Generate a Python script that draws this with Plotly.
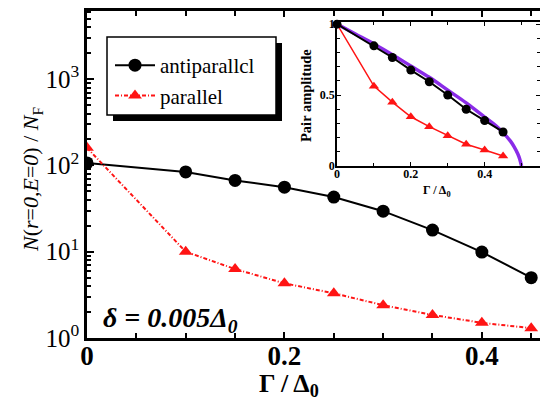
import plotly.graph_objects as go

# ---- data ----
gamma = [0.0, 0.1, 0.15, 0.2, 0.25, 0.3, 0.35, 0.4, 0.45]
dos_antiparallel = [107, 84, 67, 56, 43, 29.5, 17.8, 9.9, 5.0]
dos_parallel = [160, 10.0, 6.3, 4.3, 3.3, 2.4, 1.85, 1.5, 1.3]

pair_antiparallel = [1.0, 0.847, 0.765, 0.676, 0.594, 0.50, 0.40, 0.32, 0.24]
pair_parallel = [1.0, 0.563, 0.45, 0.347, 0.277, 0.213, 0.153, 0.113, 0.07]

curve_x = [0.0, 0.05, 0.1, 0.15, 0.2, 0.25, 0.3, 0.35, 0.4, 0.43, 0.45, 0.47, 0.48, 0.49, 0.495, 0.5]
curve_y = [1.0, 0.93, 0.86, 0.785, 0.705, 0.625, 0.535, 0.445, 0.345, 0.285, 0.235, 0.175, 0.135, 0.085, 0.05, 0.0]

y_tickvals = [1, 10, 100, 1000]
y_ticktext = ["10<sup>0</sup>", "10<sup>1</sup>", "10<sup>2</sup>", "10<sup>3</sup>"]
y_minor = [m * d for d in [1, 10, 100, 1000] for m in range(2, 10)]

x_tickvals = [0, 0.2, 0.4]
x_ticktext = ["0", "0.2", "0.4"]
inset_x_tickvals = [0, 0.2, 0.4]
inset_x_ticktext = ["0", "0.2", "0.4"]
inset_y_tickvals = [0, 0.5, 1]
inset_y_ticktext = ["0", "0.5", "1"]

FONT = "Liberation Serif"
RED = "#ff1414"
PURPLE = "#8a2be8"

# the page body has an 8px margin, so figure coords = screen coords - 8
OFF = 8
W, H = 548, 401
L, R, T, B = 79, 9, 3, 71
PW, PH = W - L - R, H - T - B


def px(x):
    return (x - OFF - L) / PW


def py(y):
    return (H - B - (y - OFF)) / PH


fig = go.Figure()

fig.add_trace(go.Scatter(
    x=gamma, y=dos_antiparallel, name="antiparallcl", mode="lines+markers",
    line=dict(color="black", width=2),
    marker=dict(symbol="circle", size=13, color="black"),
))
fig.add_trace(go.Scatter(
    x=gamma, y=dos_parallel, name="parallel", mode="lines+markers",
    line=dict(color=RED, width=2, dash="4px,2px,1px,2px"),
    marker=dict(symbol="triangle-up", size=12, color=RED),
))

# inset
fig.add_trace(go.Scatter(
    x=curve_x, y=curve_y, mode="lines", line=dict(color=PURPLE, width=3.5, shape="spline"),
    xaxis="x2", yaxis="y2", showlegend=False, cliponaxis=False,
))
fig.add_trace(go.Scatter(
    x=gamma, y=pair_parallel, mode="lines+markers", line=dict(color=RED, width=1.5),
    marker=dict(symbol="triangle-up", size=9, color=RED),
    xaxis="x2", yaxis="y2", showlegend=False, cliponaxis=False,
))
fig.add_trace(go.Scatter(
    x=gamma, y=pair_antiparallel, mode="lines+markers", line=dict(color="black", width=2),
    marker=dict(symbol="circle", size=9, color="black"),
    xaxis="x2", yaxis="y2", showlegend=False, cliponaxis=False,
))

axis_common = dict(showgrid=False, zeroline=False, showline=True, linecolor="black",
                   ticks="inside", tickcolor="black", automargin=False)

fig.update_layout(
    width=W, height=H,
    margin=dict(l=L, r=R, t=T, b=B, autoexpand=False),
    paper_bgcolor="white", plot_bgcolor="white",
    font=dict(family=FONT, color="black"),
    xaxis=dict(
        **axis_common, range=[0, 0.466], linewidth=2.5, mirror="allticks",
        tickvals=x_tickvals, ticktext=x_ticktext, ticklen=6, tickwidth=2,
        minor=dict(dtick=0.05, ticks="inside", ticklen=5, tickwidth=1.5, tickcolor="black"),
        tickfont=dict(size=27, family=FONT, weight="bold"),
        ticklabelstandoff=-8,
    ),
    yaxis=dict(
        **axis_common, type="log", range=[0, 3.79], linewidth=2.5, mirror="allticks",
        tickvals=y_tickvals, ticktext=y_ticktext, ticklen=7, tickwidth=2,
        minor=dict(tickvals=y_minor, ticks="inside", ticklen=4, tickwidth=1.5, tickcolor="black"),
        tickfont=dict(size=25, family=FONT),
    ),
    xaxis2=dict(
        **axis_common, domain=[px(337), px(540)], anchor="y2", range=[0, 0.55],
        linewidth=1.5, mirror="allticks",
        tickvals=inset_x_tickvals, ticktext=inset_x_ticktext, ticklen=4, tickwidth=1,
        minor=dict(dtick=0.1, ticks="inside", ticklen=3, tickwidth=1, tickcolor="black"),
        tickfont=dict(size=12, family=FONT, weight="bold"),
        ticklabelstandoff=-4,
    ),
    yaxis2=dict(
        **axis_common, domain=[py(166), py(22)], anchor="x2", range=[0, 1.015],
        linewidth=1.5, mirror="allticks",
        tickvals=inset_y_tickvals, ticktext=inset_y_ticktext, ticklen=4, tickwidth=1,
        minor=dict(dtick=0.1, ticks="inside", ticklen=3, tickwidth=1, tickcolor="black"),
        tickfont=dict(size=12, family=FONT, weight="bold"),
        ticklabelstandoff=-2,
    ),
    legend=dict(
        x=px(110), y=py(45), xanchor="left", yanchor="top",
        bgcolor="rgba(0,0,0,0)", borderwidth=0,
        font=dict(size=21, family=FONT), itemwidth=40, tracegroupgap=0,
    ),
    showlegend=True,
)

# legend shadow and box
fig.add_shape(type="rect", xref="paper", yref="paper",
              x0=px(113), x1=px(282), y0=py(121), y1=py(43),
              fillcolor="black", line=dict(width=0), layer="below")
fig.add_shape(type="rect", xref="paper", yref="paper",
              x0=px(107), x1=px(276), y0=py(115), y1=py(37),
              fillcolor="white", line=dict(color="black", width=1.5), layer="below")

annotations = [
    dict(x=px(32), y=py(180), text="<i>N</i>(<i>r</i>=<i>0</i>,<i>E</i>=<i>0</i>) / <i>N</i><sub>F</sub>",
         textangle=-90, font=dict(size=22, family=FONT)),
    dict(x=px(289), y=py(385), text="<b>Γ / Δ<sub>0</sub></b>", font=dict(size=26, family=FONT)),
    dict(x=px(170), y=py(319), text="<b><i>δ = 0.005Δ<sub>0</sub></i></b>", font=dict(size=28, family=FONT)),
    dict(x=px(306), y=py(96), text="<b>Pair amplitude</b>", textangle=-90, font=dict(size=14.5, family=FONT)),
    dict(x=px(437), y=py(191), text="<b>Γ / Δ<sub>0</sub></b>", font=dict(size=12, family=FONT)),
]
for a in annotations:
    a.update(xref="paper", yref="paper", showarrow=False, xanchor="center", yanchor="middle")
    fig.add_annotation(**a)

fig.write_html("out.html")
